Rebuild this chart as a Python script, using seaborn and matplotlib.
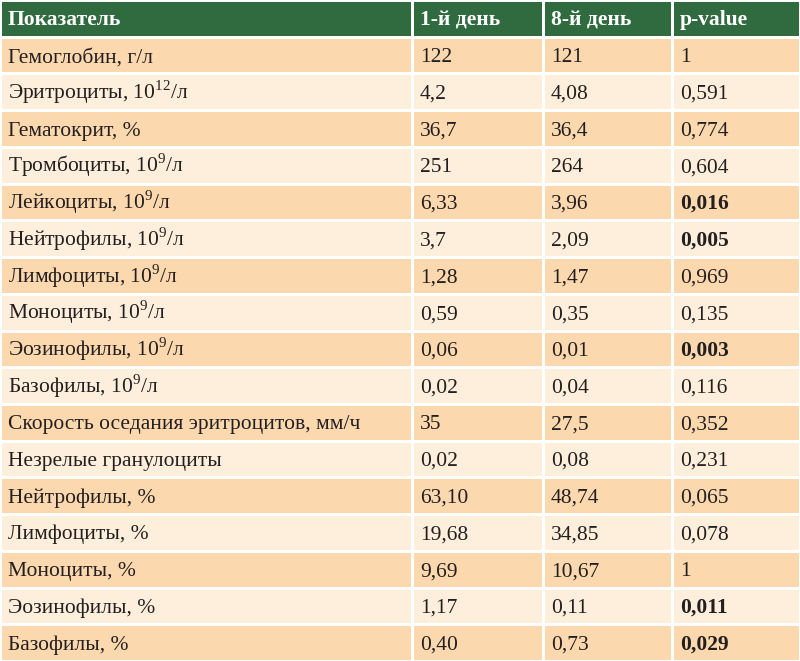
import numpy as np
import matplotlib
matplotlib.use("Agg")
import matplotlib.pyplot as plt
from matplotlib.colors import ListedColormap
import seaborn as sns

sns.set_style("white")
plt.rcParams["font.family"] = "Liberation Serif"
plt.rcParams["mathtext.fontset"] = "custom"
plt.rcParams["mathtext.rm"] = "Liberation Serif"

header = ["Показатель", "1-й день", "8-й день", "p-value"]
names = ["Гемоглобин, г/л", "Эритроциты, 10$^{12}$/л", "Гематокрит, %",
         "Тромбоциты, 10$^{9}$/л", "Лейкоциты, 10$^{9}$/л", "Нейтрофилы, 10$^{9}$/л",
         "Лимфоциты, 10$^{9}$/л", "Моноциты, 10$^{9}$/л", "Эозинофилы, 10$^{9}$/л",
         "Базофилы, 10$^{9}$/л", "Скорость оседания эритроцитов, мм/ч",
         "Незрелые гранулоциты", "Нейтрофилы, %", "Лимфоциты, %", "Моноциты, %",
         "Эозинофилы, %", "Базофилы, %"]
day1 = ["122", "4,2", "36,7", "251", "6,33", "3,7", "1,28", "0,59", "0,06", "0,02",
        "35", "0,02", "63,10", "19,68", "9,69", "1,17", "0,40"]
day8 = ["121", "4,08", "36,4", "264", "3,96", "2,09", "1,47", "0,35", "0,01", "0,04",
        "27,5", "0,08", "48,74", "34,85", "10,67", "0,11", "0,73"]
pvals = ["1", "0,591", "0,774", "0,604", "0,016", "0,005", "0,969", "0,135", "0,003",
         "0,116", "0,352", "0,231", "0,065", "0,078", "1", "0,011", "0,029"]

nrows = len(names) + 1
col_edges = np.array([0, 412, 543, 672, 800])
row_edges = np.linspace(0, 661, nrows + 1)

codes = np.zeros((nrows, 4))
for i in range(1, nrows):
    codes[i, :] = 1 if i % 2 == 1 else 2
cmap = ListedColormap(["#2f6b3f", "#fcd8ae", "#fdefdb"])

fig = plt.figure(figsize=(8, 6.61), dpi=100)
ax = fig.add_axes([0, 0, 1, 1])
ax.pcolormesh(col_edges, row_edges, codes, cmap=cmap, vmin=-0.5, vmax=2.5,
              edgecolors="white", linewidth=0.8)
ax.set_xlim(0, 800)
ax.set_ylim(661, 0)
ax.axis("off")

rows = [header] + [[n, a, b, p] for n, a, b, p in zip(names, day1, day8, pvals)]
for i, r in enumerate(rows):
    yc = (row_edges[i] + row_edges[i + 1]) / 2
    for j, t in enumerate(r):
        bold = i == 0 or (j == 3 and float(t.replace(",", ".")) < 0.05)
        ax.text(col_edges[j] + 8, yc + 7, t, va="baseline", ha="left", fontsize=15.5,
                color="white" if i == 0 else "#231f20",
                fontweight="bold" if bold else "normal")

fig.savefig("out.png", dpi=100)
